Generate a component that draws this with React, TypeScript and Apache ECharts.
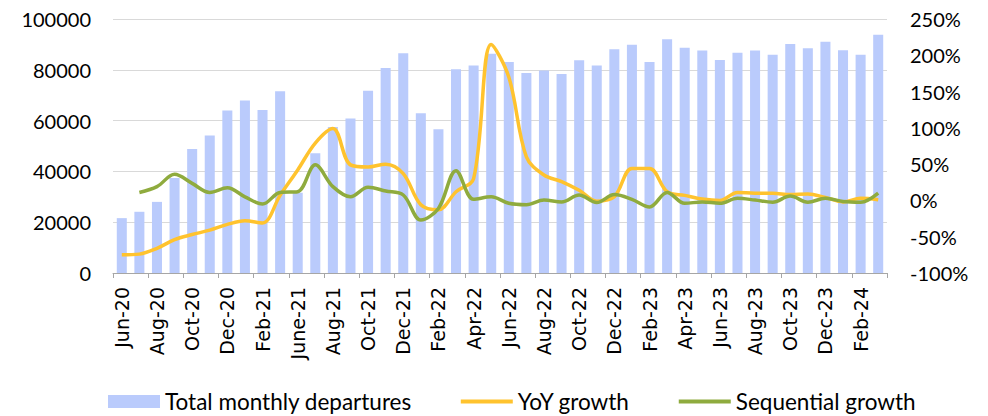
import React, { useEffect, useRef } from "react";
import * as echarts from "echarts";

const categories: string[] = [
  "Jun-20", "Jul-20", "Aug-20", "Sep-20", "Oct-20", "Nov-20", "Dec-20", "Jan-21", "Feb-21", "Mar-21",
  "June-21", "Jul-21", "Aug-21", "Sep-21", "Oct-21", "Nov-21", "Dec-21",
  "Jan-22", "Feb-22", "Mar-22", "Apr-22", "May-22", "Jun-22", "Jul-22", "Aug-22", "Sep-22", "Oct-22", "Nov-22", "Dec-22",
  "Jan-23", "Feb-23", "Mar-23", "Apr-23", "May-23", "Jun-23", "Jul-23", "Aug-23", "Sep-23", "Oct-23", "Nov-23", "Dec-23",
  "Jan-24", "Feb-24", "Mar-24",
];

const departures: number[] = [
  21600, 24100, 28000, 37400, 48800, 54100, 64000, 67900, 64200, 71600,
  31600, 47100, 57500, 60800, 71800, 80700, 86500,
  62900, 56600, 80200, 81700, 86300, 83100, 78700, 79700, 78300, 83800, 81700, 88100,
  89900, 83100, 92000, 88700, 87600, 83900, 86700, 87600, 85900, 90200, 88500, 91000,
  87700, 85900, 93800,
];

const yoyGrowth: number[] = [
  -75, -74, -66, -54, -47, -41, -33, -28, -31, 7,
  42, 79, 99, 49, 46, 50, 37,
  -6, -13, 12, 30, 215, 170, 60, 35, 26, 14, -1, 5,
  44, 44, 12, 7, 2, 0, 11, 10, 10, 8, 9, 4,
  -2, 3, 1,
];

const sequentialGrowth: (number | null)[] = [
  null, 11, 19, 36, 23.5, 11, 17.5, 5, -5, 11,
  12, 49, 19, 5, 18, 13, 7.5,
  -27, -11, 41, 1.5, 5, -4, -6, 0.5, -2, 7.5, -3, 8,
  1.5, -9, 11, -4, -2, -4, 3, 0.5, -2.5, 6, -2.5, 3,
  -1.5, -2.5, 10,
];

const leftTicks = { min: 0, max: 100000, interval: 20000 };
const rightTicks = { min: -100, max: 250, interval: 50 };

const YELLOW = "#ffc32e";
const GREEN = "#8fab3e";
const BAR = "#bacbfc";

export default function App() {
  const ref = useRef<HTMLDivElement>(null);
  useEffect(() => {
    document.body.style.margin = "0";
    const chart = echarts.init(ref.current!, null, { renderer: "svg" });
    const numFont = "Lato, 'Noto Sans', sans-serif";
    const lineIcon = "path://M0 0H52V4H0Z";
    chart.setOption({
      animation: false,
      grid: { left: 113, right: 101, top: 19, bottom: 143, containLabel: false },
      legend: {
        left: 103,
        top: 385,
        itemWidth: 52,
        itemHeight: 13,
        itemGap: 49,
        textStyle: { fontFamily: numFont, fontSize: 22.5, color: "#000" },
        data: [
          { name: "Total monthly departures", icon: "rect", itemStyle: { color: BAR } },
          { name: "YoY growth", icon: lineIcon, itemStyle: { color: YELLOW } },
          { name: "Sequential growth", icon: lineIcon, itemStyle: { color: GREEN } },
        ],
      },
      xAxis: {
        type: "category",
        data: categories,
        boundaryGap: true,
        axisLine: { lineStyle: { color: "#a6a6a6", width: 1 } },
        axisTick: { show: true, length: 5, lineStyle: { color: "#a6a6a6" } },
        axisLabel: {
          interval: 1,
          rotate: 90,
          margin: 14,
          fontFamily: "'DejaVu Sans', sans-serif",
          fontSize: 19,
          color: "#000",
        },
      },
      yAxis: [
        {
          type: "value",
          ...leftTicks,
          axisLine: { show: false },
          axisTick: { show: false },
          splitLine: { lineStyle: { color: "#d9d9d9", width: 1 } },
          axisLabel: {
            margin: 22,
            fontFamily: numFont,
            fontSize: 20,
            color: "#000",
            formatter: (v: number) => String(v),
          },
        },
        {
          type: "value",
          ...rightTicks,
          position: "right",
          axisLine: { show: false },
          axisTick: { show: false },
          splitLine: { show: false },
          axisLabel: { margin: 23, fontFamily: numFont, fontSize: 20, color: "#000", formatter: "{value}%" },
        },
      ],
      series: [
        {
          name: "Total monthly departures",
          type: "bar",
          data: departures,
          yAxisIndex: 0,
          barWidth: "57%",
          itemStyle: { color: BAR },
        },
        {
          name: "YoY growth",
          type: "line",
          data: yoyGrowth,
          yAxisIndex: 1,
          smooth: 0.35,
          symbol: "none",
          lineStyle: { color: YELLOW, width: 3.5 },
          itemStyle: { color: YELLOW },
        },
        {
          name: "Sequential growth",
          type: "line",
          data: sequentialGrowth,
          yAxisIndex: 1,
          smooth: 0.35,
          symbol: "none",
          lineStyle: { color: GREEN, width: 3.5 },
          itemStyle: { color: GREEN },
        },
      ],
    });
    return () => chart.dispose();
  }, []);
  return <div ref={ref} style={{ width: 988, height: 416 }} />;
}
